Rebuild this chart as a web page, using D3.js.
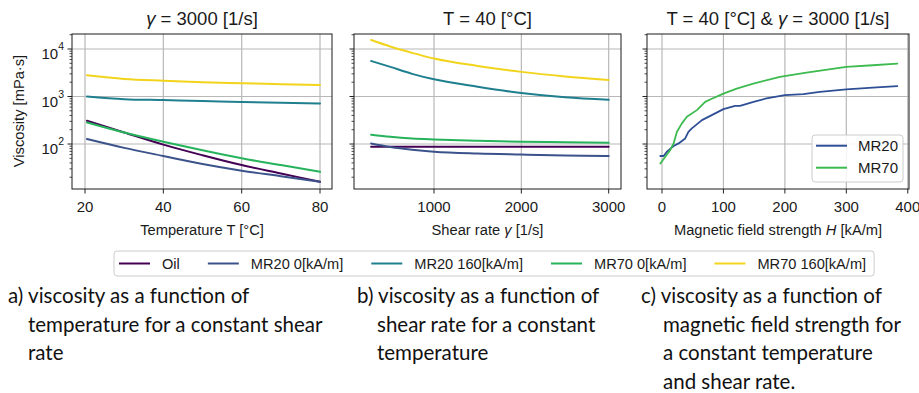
<!DOCTYPE html>
<html>
<head>
<meta charset="utf-8">
<script src="https://cdn.jsdelivr.net/npm/d3@7"></script>
<style>
  html, body { margin: 0; padding: 0; background: #fff; }
  svg { display: block; }
  text { font-family: "Liberation Sans", Arial, sans-serif; fill: #1a1a1a; }
  .caption { font-family: Lato, "Open Sans", sans-serif; fill: #111; }
</style>
</head>
<body>
<svg id="chart" width="919" height="393"></svg>
<script>
// ---- Series colours --------------------------------------------------------
const seriesNames  = ["Oil", "MR20 0[kA/m]", "MR20 160[kA/m]", "MR70 0[kA/m]", "MR70 160[kA/m]"];
const seriesColors = ["#440154", "#3b528b", "#1f7f8f", "#26b35c", "#f2d41c"];

// ---- a) viscosity vs temperature, shear rate 3000 1/s ------------------------
const tempT       = [20.5, 30, 40, 50, 60, 70, 80];
const tempOil     = [310, 175, 97, 58, 36, 24, 16];
const tempMR20_0  = [127, 83, 56, 38, 27.5, 21, 16];
const tempMR20_160= [1000, 880, 840, 800, 770, 740, 710];
const tempMR70_0  = [285, 175, 112, 74, 50, 36, 26];
const tempMR70_160= [2800, 2350, 2150, 2000, 1900, 1820, 1740];

// ---- b) viscosity vs shear rate, T = 40 °C ---------------------------------
const shearRate     = [280, 500, 750, 1000, 1500, 2000, 2500, 3000];
const shearOil      = [88, 88, 88, 88, 88, 88, 88, 88];
const shearMR20_0   = [103, 87, 76, 69, 63, 60, 57.5, 56];
const shearMR20_160 = [5600, 4200, 3000, 2300, 1600, 1180, 960, 850];
const shearMR70_0   = [157, 142, 131, 125, 117, 112, 109, 106];
const shearMR70_160 = [15500, 11300, 8300, 6300, 4400, 3300, 2650, 2230];

// ---- c) viscosity vs magnetic field strength -------------------------------
const fieldH20  = [-2.7, 2.7, 8.1, 18.9, 27, 37.8, 43, 48.6, 65, 81, 100, 119, 127, 149, 170, 200, 230, 257, 300, 343, 383];
const fieldMR20 = [56, 56, 69, 91, 103, 131, 181, 213, 318, 405, 543, 636, 636, 773, 910, 1070, 1120, 1250, 1420, 1540, 1650];
const fieldH70  = [-2.7, 5.4, 13.5, 18.9, 24.3, 32.4, 40.5, 56.8, 70.3, 78.4, 100, 121.6, 148.6, 191.9, 235, 300, 343, 383];
const fieldMR70 = [39, 54, 75, 103, 181, 272, 374, 517, 773, 867, 1150, 1470, 1870, 2580, 3170, 4200, 4550, 4920];
const fieldNames  = ["MR20", "MR70"];
const fieldColors = ["#2e4f96", "#3dba50"];

// ---- Axis ticks ---------------------------------------------------------------
const yMajorTicks = [100, 1000, 10000];
const tempTicks   = [20, 40, 60, 80];
const shearTicks  = [1000, 2000, 3000];
const fieldTicks  = [0, 100, 200, 300, 400];

// ---- Captions -----------------------------------------------------------------
const captionA = ["a) viscosity as a function of", "temperature for a constant shear", "rate"];
const captionB = ["b) viscosity as a function of", "shear rate for a constant", "temperature"];
const captionC = ["c) viscosity as a function of", "magnetic field strength for", "a constant temperature", "and shear rate."];

// ============================================================================
const svg = d3.select("#chart");
svg.append("rect").attr("width", 919).attr("height", 393).attr("fill", "#fff");

const plotTop = 34, plotBottom = 189;
const y = d3.scaleLog().domain([11.3, 20700]).range([plotBottom, plotTop]);

// Minor ticks for the log axis (2..9 of each decade inside the domain)
const yMinor = [];
[10, 100, 1000, 10000].forEach(d => {
  for (let k = 2; k <= 9; k++) {
    const v = d * k;
    if (v >= y.domain()[0] && v <= y.domain()[1]) yMinor.push(v);
  }
});

const gridColor = "#b8b8b8";
const tickSize = 15;

function panel(x0, x1, xDomain, xTicks, showYLabels) {
  const x = d3.scaleLinear().domain(xDomain).range([x0, x1]);
  const g = svg.append("g");

  // grid
  g.selectAll(".gx").data(xTicks).join("line")
    .attr("x1", d => x(d)).attr("x2", d => x(d))
    .attr("y1", plotTop).attr("y2", plotBottom)
    .attr("stroke", gridColor).attr("stroke-width", 1.2);
  g.selectAll(".gy").data(yMajorTicks).join("line")
    .attr("x1", x0).attr("x2", x1)
    .attr("y1", d => y(d)).attr("y2", d => y(d))
    .attr("stroke", gridColor).attr("stroke-width", 1.2);

  // x ticks
  g.selectAll(".tx").data(xTicks).join("line")
    .attr("x1", d => x(d)).attr("x2", d => x(d))
    .attr("y1", plotBottom).attr("y2", plotBottom + 4.5)
    .attr("stroke", "#222").attr("stroke-width", 1);
  g.selectAll(".lx").data(xTicks).join("text")
    .attr("x", d => x(d)).attr("y", 211.5)
    .attr("text-anchor", "middle").attr("font-size", tickSize)
    .text(d => d);

  // y ticks
  g.selectAll(".ty").data(yMajorTicks).join("line")
    .attr("x1", x0 - 4.5).attr("x2", x0)
    .attr("y1", d => y(d)).attr("y2", d => y(d))
    .attr("stroke", "#222").attr("stroke-width", 1);
  g.selectAll(".tym").data(yMinor).join("line")
    .attr("x1", x0 - 2.5).attr("x2", x0)
    .attr("y1", d => y(d)).attr("y2", d => y(d))
    .attr("stroke", "#222").attr("stroke-width", 0.8);

  if (showYLabels) {
    const lab = g.selectAll(".ly").data(yMajorTicks).join("text")
      .attr("x", x0 - 8).attr("y", d => y(d) + 10)
      .attr("text-anchor", "end").attr("font-size", tickSize);
    lab.append("tspan").text("10");
    lab.append("tspan").attr("dy", -9).attr("font-size", 10.5)
      .text(d => Math.round(Math.log10(d)));
  }
  return { g, x };
}

function drawLine(g, x, xs, ys, color, width, curve) {
  const line = d3.line().x(d => x(d[0])).y(d => y(d[1])).curve(curve || d3.curveMonotoneX);
  g.append("path")
    .datum(xs.map((v, i) => [v, ys[i]]))
    .attr("d", line)
    .attr("fill", "none")
    .attr("stroke", color)
    .attr("stroke-width", width)
    .attr("stroke-linejoin", "round")
    .attr("stroke-linecap", "round");
}

function spines(x0, x1) {
  svg.append("rect")
    .attr("x", x0).attr("y", plotTop)
    .attr("width", x1 - x0).attr("height", plotBottom - plotTop)
    .attr("fill", "none").attr("stroke", "#1a1a1a").attr("stroke-width", 1);
}

// ---- Panel a ----------------------------------------------------------------
const pA = panel(72, 332, [16.68, 83.06], tempTicks, true);
[tempOil, tempMR20_0, tempMR20_160, tempMR70_0, tempMR70_160].forEach((s, i) =>
  drawLine(pA.g, pA.x, tempT, s, seriesColors[i], 2));
spines(72, 332);

// ---- Panel b ----------------------------------------------------------------
const pB = panel(354, 621, [84, 3141], shearTicks, false);
[shearOil, shearMR20_0, shearMR20_160, shearMR70_0, shearMR70_160].forEach((s, i) =>
  drawLine(pB.g, pB.x, shearRate, s, seriesColors[i], 2));
spines(354, 621);

// ---- Panel c ----------------------------------------------------------------
const pC = panel(647, 909, [-24.4, 402], fieldTicks, false);
drawLine(pC.g, pC.x, fieldH20, fieldMR20, fieldColors[0], 1.8, d3.curveLinear);
drawLine(pC.g, pC.x, fieldH70, fieldMR70, fieldColors[1], 1.8, d3.curveLinear);

// panel c legend
const lg = svg.append("g");
lg.append("rect").attr("x", 812).attr("y", 135).attr("width", 91).attr("height", 47)
  .attr("rx", 3).attr("fill", "#fff").attr("fill-opacity", 0.85)
  .attr("stroke", "#cccccc").attr("stroke-width", 1);
fieldNames.forEach((n, i) => {
  const yy = 145.7 + i * 22;
  lg.append("line").attr("x1", 816).attr("x2", 847).attr("y1", yy).attr("y2", yy)
    .attr("stroke", fieldColors[i]).attr("stroke-width", 2);
  lg.append("text").attr("x", 858).attr("y", yy + 5.5).attr("font-size", 15).text(n);
});
spines(647, 909);

// ---- Titles -------------------------------------------------------------------
function mathText(sel, parts) {
  parts.forEach(p => {
    const t = sel.append("tspan").text(p.t);
    if (p.i) t.attr("font-style", "italic");
  });
}
const titleSize = 18.5;
mathText(svg.append("text").attr("x", 202).attr("y", 25).attr("text-anchor", "middle").attr("font-size", titleSize),
  [{ t: "γ", i: true }, { t: " = 3000 [1/s]" }]);
mathText(svg.append("text").attr("x", 487.5).attr("y", 25).attr("text-anchor", "middle").attr("font-size", titleSize),
  [{ t: "T = 40 [°C]" }]);
mathText(svg.append("text").attr("x", 778).attr("y", 25).attr("text-anchor", "middle").attr("font-size", titleSize),
  [{ t: "T = 40 [°C] & " }, { t: "γ", i: true }, { t: " = 3000 [1/s]" }]);

// ---- Axis labels ---------------------------------------------------------------
const labSize = 14.7;
mathText(svg.append("text").attr("x", 202).attr("y", 235).attr("text-anchor", "middle").attr("font-size", labSize),
  [{ t: "Temperature T [°C]" }]);
mathText(svg.append("text").attr("x", 487.5).attr("y", 235).attr("text-anchor", "middle").attr("font-size", labSize),
  [{ t: "Shear rate " }, { t: "γ", i: true }, { t: " [1/s]" }]);
mathText(svg.append("text").attr("x", 778).attr("y", 235).attr("text-anchor", "middle").attr("font-size", labSize),
  [{ t: "Magnetic field strength " }, { t: "H", i: true }, { t: " [kA/m]" }]);
svg.append("text").attr("transform", "translate(24,111) rotate(-90)")
  .attr("text-anchor", "middle").attr("font-size", labSize).text("Viscosity [mPa·s]");

// ---- Shared legend ------------------------------------------------------------
const leg = svg.append("g");
const legBox = leg.append("rect").attr("y", 251).attr("height", 25).attr("rx", 3)
  .attr("fill", "#fff").attr("stroke", "#cccccc").attr("stroke-width", 1);
let cx = 119;
seriesNames.forEach((n, i) => {
  leg.append("line").attr("x1", cx).attr("x2", cx + 31).attr("y1", 263.5).attr("y2", 263.5)
    .attr("stroke", seriesColors[i]).attr("stroke-width", 2);
  const t = leg.append("text").attr("x", cx + 43).attr("y", 268.5).attr("font-size", 14.6).text(n);
  const w = t.node().getComputedTextLength();
  cx = cx + 43 + w + 28;
});
legBox.attr("x", 114).attr("width", cx - 28 + 8 - 114);

// ---- Captions -----------------------------------------------------------------
function caption(lines, x, indent) {
  lines.forEach((l, i) => {
    svg.append("text").attr("class", "caption")
      .attr("x", i === 0 ? x : x + indent).attr("y", 303 + i * 28.5)
      .attr("font-size", 20.5).text(l);
  });
}
caption(captionA, 8, 20);
caption(captionB, 357, 20);
caption(captionC, 641, 22);
</script>
</body>
</html>
